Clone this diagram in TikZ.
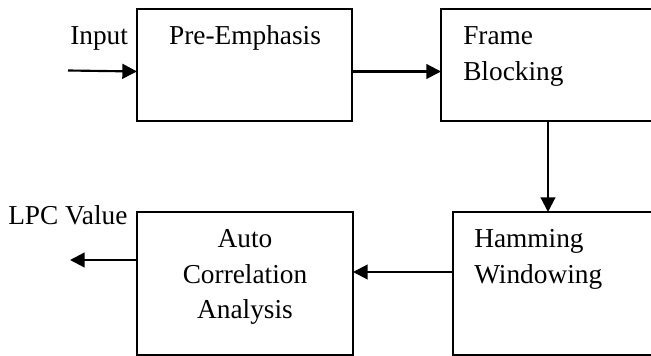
\documentclass[tikz,border=0pt]{standalone}
\usepackage{fontspec}
\setmainfont{Liberation Serif}
\usetikzlibrary{arrows.meta,calc}
\begin{document}
\begin{tikzpicture}[x=0.75pt,y=-0.75pt,
  blockbox/.style={draw,line width=1.1pt,rectangle,inner sep=0pt,outer sep=0pt},
  lbl/.style={inner sep=0pt,font=\fontsize{20.5}{27}\selectfont},
  flow/.style={line width=1.6pt,-{Triangle[length=11pt,width=11pt]}}]
\useasboundingbox (0,0) rectangle (651,356);
\clip (0,0) rectangle (651,356);
% boxes
\node[blockbox,minimum width=161.25pt,minimum height=84pt] (pre) at (244.5,65) {};
\node[blockbox,minimum width=172.5pt,minimum height=84pt] (fb) at (556,65) {};
\node[blockbox,minimum width=165pt,minimum height=107.25pt] (ham) at (563,283.5) {};
\node[blockbox,minimum width=162pt,minimum height=107.25pt] (auto) at (245,283.5) {};
% texts
\node[lbl,anchor=base west] (tin) at (70,45) {Input};
\node[lbl,anchor=base] (tpre) at (245,45) {Pre-Emphasis};
\node[lbl,anchor=base west] (tfb1) at (463,45) {Frame};
\node[lbl,anchor=base west] (tfb2) at (463,81) {Blocking};
\node[lbl,anchor=base west] (tham1) at (474,248) {Hamming};
\node[lbl,anchor=base west] (tham2) at (474,284) {Windowing};
\node[lbl,anchor=base] (tau1) at (245,248) {Auto};
\node[lbl,anchor=base] (tau2) at (245,284) {Correlation};
\node[lbl,anchor=base] (tau3) at (245,319) {Analysis};
\node[lbl,anchor=base west] (tlpc) at (8,225) {LPC Value};
% connector helpers
\coordinate (inStart) at (68,70.5);
\coordinate (row1) at (0,71.5);
\coordinate (col1) at (548,0);
\coordinate (row2) at (0,272);
\coordinate (row3) at (0,260);
\coordinate (outEnd) at (70,260);
% connectors
\draw[flow] (inStart) -- (pre.west |- row1);
\draw[flow] (pre.east |- row1) -- (fb.west |- row1);
\draw[flow] (fb.south -| col1) -- (ham.north -| col1);
\draw[flow] (ham.west |- row2) -- (auto.east |- row2);
\draw[flow] (auto.west |- row3) -- (outEnd);
\end{tikzpicture}
\end{document}
